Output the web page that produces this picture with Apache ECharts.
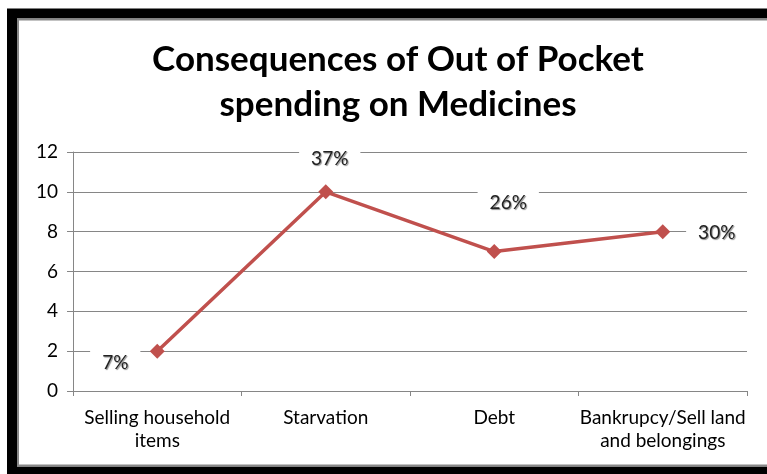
<!DOCTYPE html>
<html><head><meta charset="utf-8">
<script src="https://cdn.jsdelivr.net/npm/echarts@6/dist/echarts.min.js"></script>
<style>html,body{margin:0;padding:0;background:#fff}#c{width:767px;height:474px}</style>
</head><body><div id="c"></div>
<script>
const categories = ['Selling household\nitems', 'Starvation', 'Debt', 'Bankrupcy/Sell land\nand belongings'];
const values = [2, 10, 7, 8];
const pctLabels = ['7%', '37%', '26%', '30%'];
const yTicks = { min: 0, max: 12, interval: 2 };

const labelOffsets = [[-42, 12], [4, -33], [14, -49], [54, 1]];
const chart = echarts.init(document.getElementById('c'));
chart.setOption({
  animation: false,
  title: {
    text: 'Consequences of Out of Pocket\nspending on Medicines',
    left: 393, top: 32, textAlign: 'center',
    textStyle: { fontFamily: 'Lato', fontWeight: 'bold', fontSize: 35, lineHeight: 45, color: '#000' }
  },
  graphic: [
    { type: 'rect', shape: { x: 12, y: 13.5, width: 800, height: 458 }, style: { fill: 'none', stroke: '#000', lineWidth: 10 }, silent: true },
    { type: 'rect', shape: { x: 18, y: 19.5, width: 800, height: 446 }, style: { fill: 'none', stroke: '#888', lineWidth: 2 }, silent: true }
  ],
  grid: { left: 73, right: 20, top: 152, bottom: 83 },
  xAxis: {
    type: 'category', data: categories, boundaryGap: true,
    axisLine: { lineStyle: { color: '#868686', width: 1 } },
    axisTick: { show: true, length: 5, alignWithLabel: false, lineStyle: { color: '#868686' } },
    axisLabel: { color: '#000', fontFamily: 'Lato', fontSize: 19, lineHeight: 23, margin: 15, interval: 0 }
  },
  yAxis: {
    type: 'value', min: yTicks.min, max: yTicks.max, interval: yTicks.interval,
    axisLine: { show: true, lineStyle: { color: '#868686' } },
    axisTick: { show: true, length: 6, lineStyle: { color: '#868686' } },
    axisLabel: { color: '#000', fontFamily: 'Lato', fontSize: 19, margin: 15 },
    splitLine: { lineStyle: { color: '#868686', width: 1 } }
  },
  series: [{
    type: 'line', data: values.map((v, i) => ({
      value: v,
      label: { show: true, formatter: pctLabels[i], position: 'inside', offset: labelOffsets[i] }
    })),
    symbol: 'diamond', symbolSize: 15,
    lineStyle: { color: '#C0504D', width: 3.5 },
    itemStyle: { color: '#C0504D' },
    label: {
      show: true, color: '#222', fontFamily: 'Lato', fontSize: 19,
      backgroundColor: '#fff', padding: [4, 12],
      textShadowColor: 'rgba(0,0,0,0.45)', textShadowOffsetX: 1, textShadowOffsetY: 1, textShadowBlur: 1
    },
    z: 3
  }]
});
</script></body></html>
